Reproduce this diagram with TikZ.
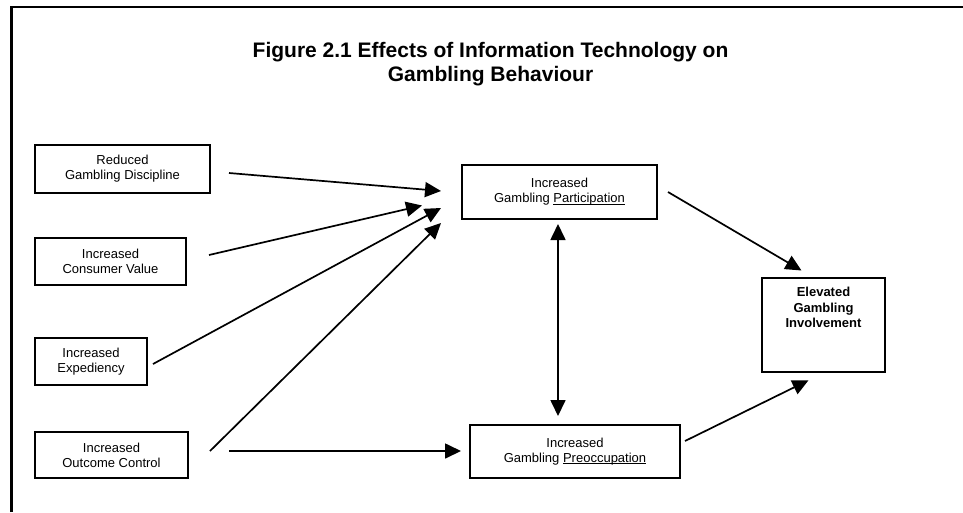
\documentclass[tikz,border=0pt]{standalone}
\usepackage{fontspec}
\setmainfont{Liberation Sans}
\usetikzlibrary{arrows.meta}
% underline that sits just under the baseline
\newcommand\ulword[1]{{\setbox0\hbox{#1}\rlap{\rule[-1.8pt]{\wd0}{0.8pt}}\box0}}

\begin{document}
\begin{tikzpicture}[x=1pt,y=-1pt,
  box/.style={draw,line width=2pt,rectangle,inner sep=0pt,align=center,
    font=\fontsize{13}{15}\selectfont},
  link/.style={line width=1.7pt,-{Triangle[length=16pt,width=15pt]}},
  twoway/.style={line width=1.7pt,{Triangle[length=16pt,width=15pt]}-{Triangle[length=16pt,width=15pt]}},
  frame/.style={line width=2.5pt}
]
\useasboundingbox (0,0) rectangle (963,512);

% outer frame (left and top edges)
\coordinate (fl) at (11.3,512);
\coordinate (fc) at (11.3,7);
\coordinate (ft) at (963,7);
\draw[frame] (fl) -- (fc) -- (ft);

% title
\node[anchor=north,inner sep=0pt,align=center,
      font=\fontsize{21}{24}\selectfont\bfseries] (title) at (490.5,42.2)
  {Figure 2.1 Effects of Information Technology on\\Gambling Behaviour};

% factor boxes
\node[box,minimum width=175pt,minimum height=48pt] (red)  at (122.5,169)   {Reduced\\Gambling Discipline};
\node[box,minimum width=151pt,minimum height=47pt] (cons) at (110.5,261.5) {Increased\\Consumer Value};
\node[box,minimum width=112pt,minimum height=47pt] (exp)  at (91,361.5)    {Increased\\Expediency};
\node[box,minimum width=153pt,minimum height=46pt] (outc) at (111.5,455)   {Increased\\Outcome Control};

% outcome boxes
\node[box,minimum width=195pt,minimum height=54pt] (part) at (559.5,192)   {Increased\\Gambling \ulword{Participation}};
\node[box,minimum width=210pt,minimum height=53pt] (preo) at (575,451.5)   {Increased\\Gambling \ulword{Preoccupation}};
\node[box,minimum width=123pt,minimum height=94pt,
      label={[anchor=north,inner sep=0pt,yshift=-10.2pt,align=center,
              font=\fontsize{13}{15.5}\selectfont\bfseries]north:Elevated\\Gambling\\Involvement}] (elev) at (823.5,325) {};

% influences on participation
\draw[link] ([shift={(18,4)}]red.east)     -- ([shift={(-20,-1)}]part.west);
\draw[link] ([shift={(22,-6.5)}]cons.east) -- ([shift={(-39,13.5)}]part.west);
\draw[link] ([shift={(5,2.5)}]exp.east)    -- ([shift={(-20,16)}]part.west);
\draw[link] ([shift={(21,-4)}]outc.east)   -- ([shift={(-20,31)}]part.west);

% influence on preoccupation
\draw[link] ([shift={(40,-4)}]outc.east)   -- ([shift={(-8,-0.5)}]preo.west);

% participation <-> preoccupation
\draw[twoway] ([shift={(-1.5,4)}]part.south) -- ([shift={(-17,-8)}]preo.north);

% paths to involvement
\draw[link] ([shift={(10,0)}]part.east)     -- ([shift={(-22,-6.5)}]elev.north);
\draw[link] ([shift={(4,-10.5)}]preo.east)  -- ([shift={(-15,7.3)}]elev.south);
\end{tikzpicture}
\end{document}
